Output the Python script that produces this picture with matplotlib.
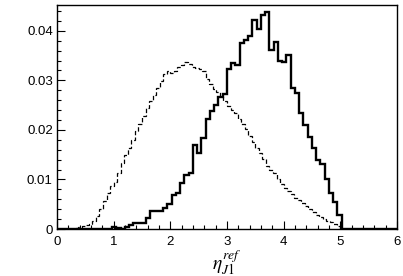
import matplotlib
matplotlib.use("Agg")
import matplotlib.pyplot as plt
from matplotlib.ticker import MultipleLocator
import numpy as np

plt.rcParams['font.family'] = ['Liberation Sans', 'DejaVu Sans']
plt.rcParams['mathtext.fontset'] = 'stix'

# thick histogram: 80 bins of 0.075 over [0, 6]
solid_width = 0.075
solid_vals = [
    0, 0, 0, 0, 0, 0, 0, 0, 0, 0,
    0.0001, 0.0001, 0.0001, 0.0005, 0.0002, 0.0001, 0.0004, 0.0008, 0.0013, 0.0012,
    0.0012, 0.0022, 0.0037, 0.0037, 0.0036, 0.0043, 0.0050, 0.0068, 0.0072, 0.0092,
    0.0110, 0.0114, 0.0169, 0.0153, 0.0183, 0.0223, 0.0238, 0.0250, 0.0267, 0.0272,
    0.0322, 0.0335, 0.0330, 0.0376, 0.0381, 0.0390, 0.0421, 0.0403, 0.0432, 0.0438,
    0.0361, 0.0378, 0.0340, 0.0337, 0.0351, 0.0284, 0.0274, 0.0235, 0.0210, 0.0186,
    0.0163, 0.0139, 0.0132, 0.0102, 0.0072, 0.0055, 0.0028, 0, 0, 0,
    0, 0, 0, 0, 0, 0, 0, 0, 0, 0,
]

# dashed histogram: bins of 0.0625 over [0, 5]
dash_width = 0.0625
dash_vals = [
    0, 0, 0, 0.00005, 0.0001, 0.0002, 0.0004, 0.0006, 0.0008, 0.0011,
    0.0017, 0.0027, 0.0040, 0.0056, 0.0072, 0.0086, 0.0095, 0.0113, 0.0133, 0.0150,
    0.0163, 0.0180, 0.0198, 0.0211, 0.0228, 0.0245, 0.0259, 0.0271, 0.0285, 0.0299,
    0.0312, 0.0319, 0.0314, 0.0318, 0.0326, 0.0331, 0.0336, 0.0332, 0.0327, 0.0324,
    0.0322, 0.0319, 0.0302, 0.0292, 0.0283, 0.0276, 0.0267, 0.0259, 0.0249, 0.0240,
    0.0234, 0.0223, 0.0212, 0.0201, 0.0187, 0.0175, 0.0164, 0.0154, 0.0141, 0.0128,
    0.0120, 0.0113, 0.0100, 0.0090, 0.0083, 0.0076, 0.0070, 0.0063, 0.0058, 0.0052,
    0.0046, 0.0040, 0.0034, 0.0029, 0.0025, 0.0021, 0.0017, 0.0014, 0.0011, 0.0007,
]

solid_edges = np.arange(len(solid_vals) + 1) * solid_width
dash_edges = np.arange(len(dash_vals) + 1) * dash_width

fig = plt.figure(figsize=(4.03, 2.76), dpi=100)
ax = fig.add_axes([0.1414, 0.170, 0.8436, 0.812])

ax.stairs(dash_vals + [0], np.append(dash_edges, 6.0), color='black', lw=0.9,
          linestyle=(0, (3.5, 1.8)))
ax.stairs(solid_vals, solid_edges, color='black', lw=1.7)

ax.set_xlim(0, 6)
ax.set_ylim(0, 0.0452)
ax.xaxis.set_major_locator(MultipleLocator(1))
ax.xaxis.set_minor_locator(MultipleLocator(0.2))
ax.yaxis.set_minor_locator(MultipleLocator(0.002))
ax.set_yticks([0, 0.01, 0.02, 0.03, 0.04])
ax.set_yticklabels(['0', '0.01', '0.02', '0.03', '0.04'])
ax.tick_params(which='both', direction='in', top=False, right=False, labelsize=9.5)
ax.tick_params(which='major', length=6, width=0.8)
ax.tick_params(which='minor', length=3, width=0.8)
ax.tick_params(axis='x', pad=5)
ax.tick_params(axis='y', pad=3)
for s in ax.spines.values():
    s.set_linewidth(1.0)

ax.set_xlabel(r'$\eta_{J1}^{ref}$', fontsize=14)
ax.xaxis.set_label_coords(0.5, -0.085)

fig.savefig("out.png", dpi=100)
